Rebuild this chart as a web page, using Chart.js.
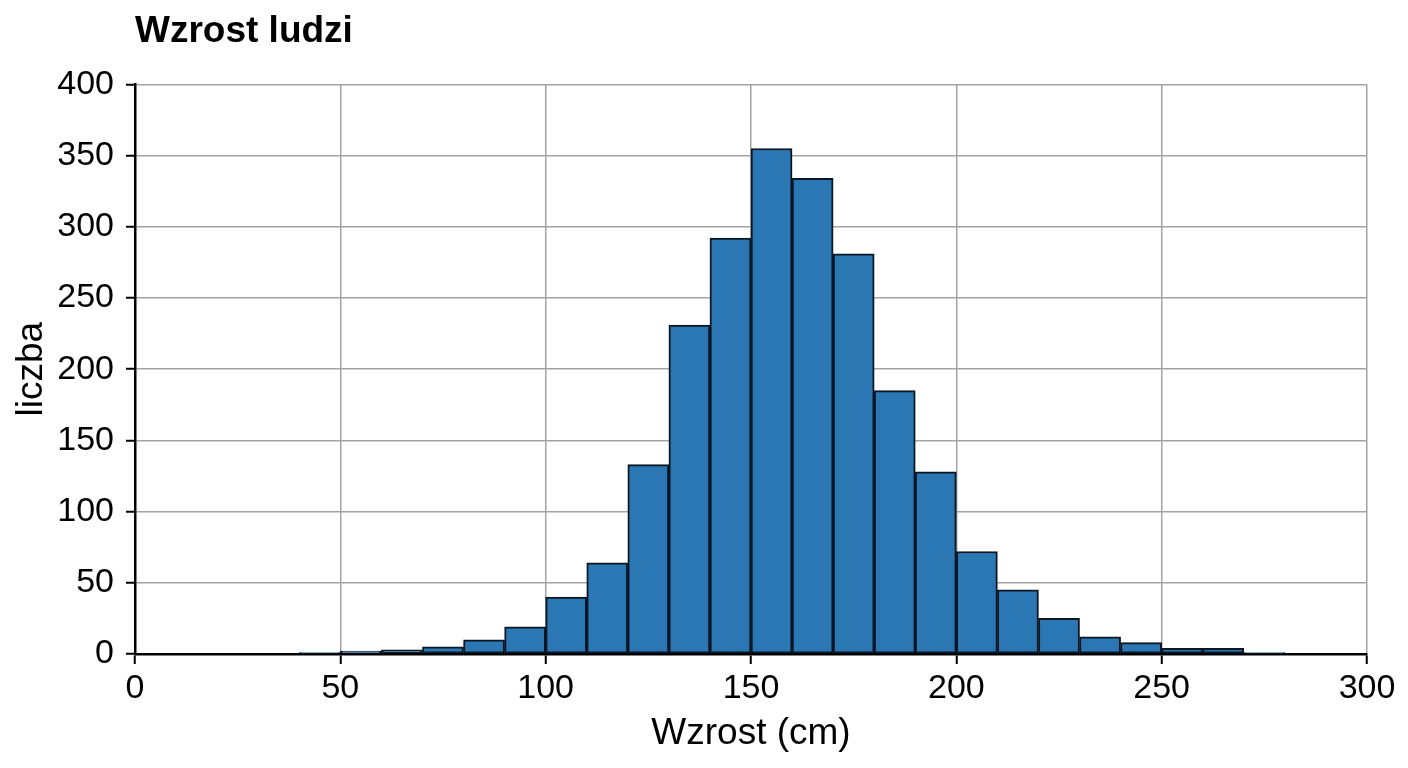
<!DOCTYPE html>
<html>
<head>
<meta charset="utf-8">
<title>Wzrost ludzi</title>
<script src="https://cdn.jsdelivr.net/npm/chart.js@4"></script>
<style>
    html, body { margin: 0; padding: 0; background: #fff; }
    #wrap { width: 1408px; height: 768px; }
</style>
</head>
<body>
<div id="wrap"><canvas id="hist" width="1408" height="768"></canvas></div>
<script>
// histogram bins (left edge, cm) and counts per bin
var binStarts = [0, 10, 20, 30, 40, 50, 60, 70, 80, 90,
                 100, 110, 120, 130, 140, 150, 160, 170, 180, 190,
                 200, 210, 220, 230, 240, 250, 260, 270, 280, 290];
var binWidth = 10;
var counts = [0, 0, 0, 0, 1, 2, 3, 5, 10, 19,
              40, 64, 133, 231, 292, 355, 334, 281, 185, 128,
              72, 45, 25, 12, 8, 4, 4, 1, 0, 0];

var chartTitle = "Wzrost ludzi";
var xTitle = "Wzrost (cm)";
var yTitle = "liczba";

(function () {
    var FONT = "'Liberation Sans', Arial, Helvetica, sans-serif";

    var points = [];
    for (var i = 0; i < binStarts.length; i++) {
        points.push({ x: binStarts[i] + binWidth / 2, y: counts[i] });
    }

    var ctx = document.getElementById('hist').getContext('2d');
    new Chart(ctx, {
        type: 'bar',
        data: {
            datasets: [{
                data: points,
                backgroundColor: '#2b77b3',
                borderColor: '#0b1724',
                borderWidth: 2,
                borderSkipped: false,
                barPercentage: 1,
                categoryPercentage: 1
            }]
        },
        options: {
            responsive: false,
            animation: false,
            devicePixelRatio: 1,
            layout: { padding: { left: 0, right: 41, top: 0, bottom: 0 } },
            plugins: {
                legend: { display: false },
                tooltip: { enabled: false },
                title: {
                    display: true,
                    text: chartTitle,
                    align: 'start',
                    fullSize: false,
                    color: '#000',
                    font: { family: FONT, size: 37, weight: 'bold' },
                    padding: { top: 10, bottom: 30 }
                }
            },
            scales: {
                x: {
                    type: 'linear',
                    min: 0,
                    max: 300,
                    offset: false,
                    afterFit: function (scale) { scale.height = 114; },
                    ticks: {
                        stepSize: 50,
                        color: '#000',
                        padding: 4,
                        maxRotation: 0,
                        font: { family: FONT, size: 34 }
                    },
                    grid: {
                        offset: false,
                        color: '#a3a3a3',
                        lineWidth: 1.5,
                        tickColor: '#000',
                        tickLength: 10,
                        tickWidth: 2
                    },
                    border: { color: '#000', width: 2.5 },
                    title: {
                        display: true,
                        text: xTitle,
                        color: '#000',
                        font: { family: FONT, size: 37 },
                        padding: { top: 0, bottom: 12 }
                    }
                },
                y: {
                    min: 0,
                    max: 400,
                    afterFit: function (scale) { scale.width = 135; },
                    ticks: {
                        stepSize: 50,
                        color: '#000',
                        padding: 12,
                        font: { family: FONT, size: 34 }
                    },
                    grid: {
                        color: '#a3a3a3',
                        lineWidth: 1.5,
                        tickColor: '#000',
                        tickLength: 9,
                        tickWidth: 2
                    },
                    border: { color: '#000', width: 2.5 },
                    title: {
                        display: true,
                        text: yTitle,
                        color: '#000',
                        font: { family: FONT, size: 37 },
                        padding: { top: 10, bottom: 0 }
                    }
                }
            }
        }
    });
})();
</script>
</body>
</html>
